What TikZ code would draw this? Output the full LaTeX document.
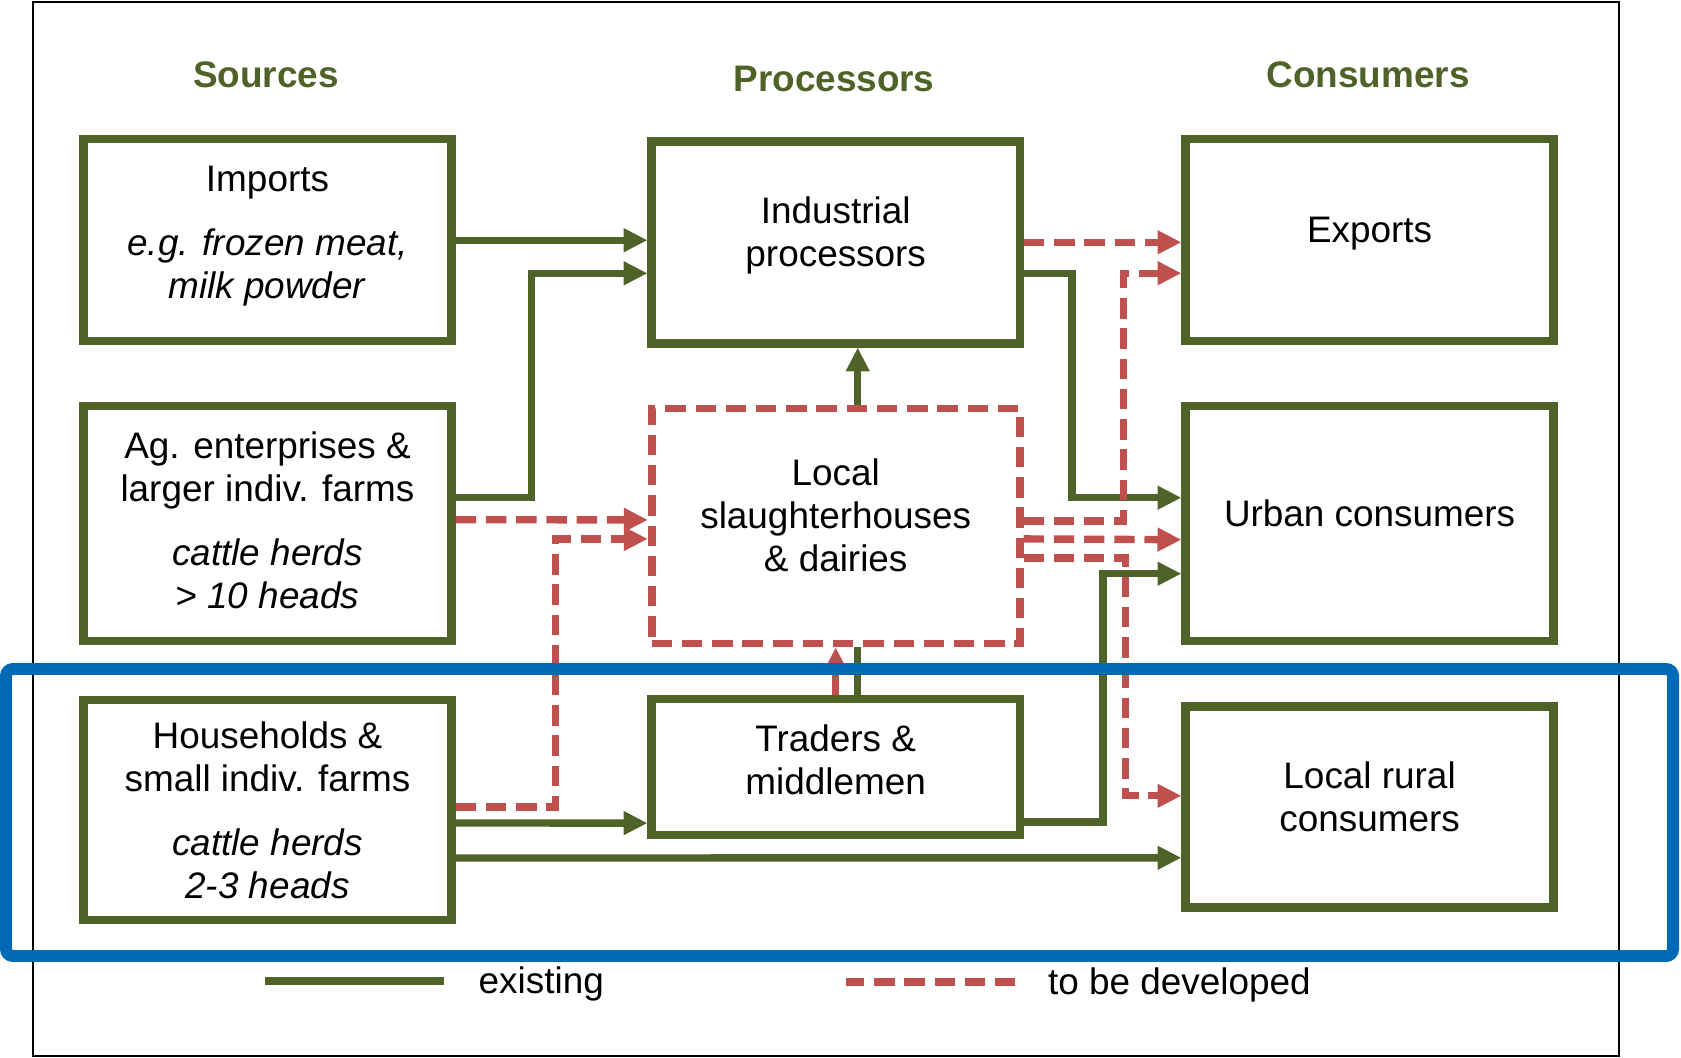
\documentclass[tikz,border=0pt]{standalone}
\usepackage{fontspec}
\setmainfont{Liberation Sans}
\usetikzlibrary{arrows.meta, positioning}

\definecolor{leafgreen}{RGB}{79,98,40}
\definecolor{brick}{RGB}{192,80,77}
\definecolor{hlblue}{RGB}{0,106,182}

\begin{document}
\begin{tikzpicture}[
  font=\fontsize{10.5}{12.2}\selectfont,
  %% Boxes
  gbox/.style ={draw=leafgreen, line width=2.4pt, fill=white, minimum width=3.68cm,
                align=center, inner sep=0pt},
  rbox/.style ={draw=brick, line width=2.2pt, dash pattern=on 5.8pt off 2.8pt,
                fill=white, minimum width=3.68cm, align=center, inner sep=0pt},
  lift/.style ={text depth=0.21cm},
  hdr/.style  ={text=leafgreen, font=\fontsize{10.5}{12.2}\selectfont\bfseries},
  %% Connectors
  lnk/.style  ={line width=2.1pt, leafgreen},
  dlnk/.style ={line width=2.1pt, brick, dash pattern=on 5.8pt off 2.8pt},
  arr/.style  ={lnk, -{Triangle[length=6.8pt, width=6.4pt]}},
  darr/.style ={dlnk, -{Triangle[length=6.8pt, width=6.4pt]}},
  focus/.style={hlblue, line width=3.4pt, rounded corners=2pt}
]
\useasboundingbox (0,0) rectangle (16.81,-10.57);
\draw[line width=0.5pt] (0.33,-0.02) rectangle (16.19,-10.56);

%% ── column headers ─────────────────────────────────────────────
\node[hdr] (hsrc)  at (2.66,-0.75)  {Sources};
\node[hdr] (hproc) at (8.34,-0.79)  {Processors};
\node[hdr] (hcons) at (13.68,-0.75) {Consumers};

%% ── sources ────────────────────────────────────────────────────
\node[gbox, minimum height=2.02cm, text depth=0.15cm] (imp) at (2.675,-2.402)
  {Imports\\[6pt]\textit{e.g. frozen meat,}\\\textit{milk powder}};
\node[gbox, minimum height=2.35cm, text depth=0.07cm] (ag) at (2.675,-5.237)
  {Ag. enterprises \&\\larger indiv. farms\\[6pt]\textit{cattle herds}\\\textit{> 10 heads}};
\node[gbox, minimum height=2.20cm] (hh) at (2.675,-8.100)
  {Households \&\\small indiv. farms\\[6pt]\textit{cattle herds}\\\textit{2-3 heads}};

%% ── processors ─────────────────────────────────────────────────
\node[gbox, minimum height=2.02cm, lift] (ind) at (8.357,-2.423) {Industrial\\processors};
\node[gbox, minimum height=1.36cm, text depth=0.15cm] (trd) at (8.357,-7.671) {Traders \&\\middlemen};

%% ── consumers ──────────────────────────────────────────────────
\node[gbox, minimum height=2.02cm, lift] (exp) at (13.696,-2.402) {Exports};
\node[gbox, minimum height=2.35cm, lift] (urb) at (13.696,-5.237) {Urban consumers};
\node[gbox, minimum height=2.01cm, lift] (rur) at (13.696,-8.068) {Local rural\\consumers};

%% existing flows
\draw[arr] (imp.east) -- (imp.east -| ind.west);
\draw[arr] ([yshift=2.6mm]ag.east) -- ++(0.76,0) |- ([yshift=-3.1mm]ind.west);
\draw[arr] ([yshift=-1.3mm]hh.east) -- ([yshift=-5.6mm]trd.west);
\draw[arr] ([yshift=-4.8mm]hh.east) -- ([yshift=-5.1mm]rur.west);
\draw[arr] ([yshift=-3.1mm]ind.east) -- ++(0.48,0) |- ([yshift=2.6mm]urb.west);
\draw[arr] ([yshift=-5.5mm]trd.east) -- ++(0.79,0) |- ([yshift=-5.0mm]urb.west);

%% slaughterhouses sit on top of the trader line
\node[rbox, minimum height=2.35cm, lift] (loc) at (8.357,-5.259)
  {Local\\slaughterhouses\\\& dairies};
\draw[lnk] ([xshift=2.2mm]trd.north) -- ([xshift=2.2mm]loc.south);
\draw[arr] ([xshift=2.2mm]loc.north) -- ([xshift=2.2mm]ind.south);

%% flows to be developed
\draw[darr] ([yshift=0.4mm]ag.east) -- ([yshift=0.6mm]loc.west);
\draw[darr] ([yshift=0.3mm]hh.east) -- ++(1.0,0) |- ([yshift=-1.3mm]loc.west);
\draw[darr] (trd.north) -- (loc.south);
\draw[darr] (ind.east) -- (ind.east -| exp.west);
\draw[darr] ([yshift=0.5mm]loc.east) -- ++(1.0,0) |- ([yshift=-3.3mm]exp.west);
\draw[darr] ([yshift=-1.3mm]loc.east) -- ([yshift=-1.6mm]urb.west);
\draw[darr] ([yshift=-3.2mm]loc.east) -- ++(1.02,0) |- ([yshift=1.1mm]rur.west);

%% legend
\node[anchor=west, inner sep=0pt] (ex)  at (4.78,-9.84)   {existing};
\node[anchor=west, inner sep=0pt] (tbd) at (10.474,-9.85) {to be developed};
\draw[lnk]  ([xshift=-3.4mm,yshift=0.3mm]ex.west)  -- ++(-1.79,0);
\draw[dlnk] ([xshift=-3.2mm,yshift=0.3mm]tbd.west) -- ++(-1.69,0);

%% smallholder focus frame
\draw[focus] (0.06,-6.69) rectangle (16.73,-9.56);
\end{tikzpicture}
\end{document}
